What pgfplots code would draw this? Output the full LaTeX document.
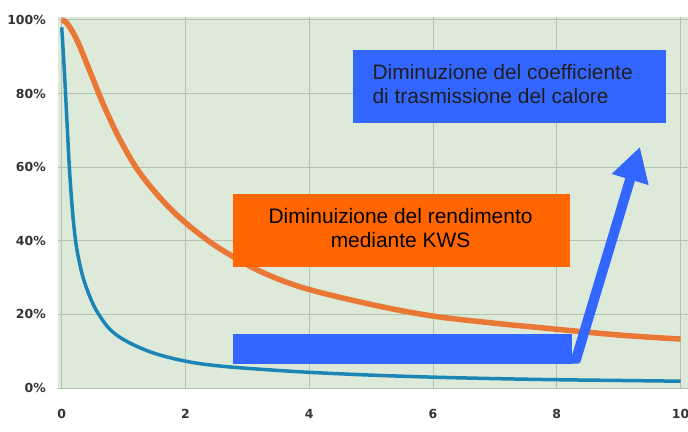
\documentclass[border=0pt]{standalone}
\usepackage{fontspec}
\setmainfont{Liberation Sans}
\newfontfamily\tickfont{DejaVu Sans}
\usepackage{pgfplots}
\pgfplotsset{compat=1.18}
\usetikzlibrary{arrows.meta}
\definecolor{bggreen}{HTML}{DDE9D9}
\definecolor{gridc}{HTML}{B4C2B0}
\definecolor{curveorange}{HTML}{E97837}
\definecolor{curveblue}{HTML}{1B86B6}
\definecolor{boxorange}{HTML}{FF6600}
\definecolor{boxblue}{HTML}{3366FF}
\definecolor{ticktext}{HTML}{333333}
\begin{document}
\begin{tikzpicture}
\path[use as bounding box] (-58bp,-44bp) rectangle (630bp,388bp);
\begin{axis}[
  at={(0,0)}, anchor=south west,
  width=630bp, height=371bp, scale only axis,
  xmin=-0.06, xmax=10.12, ymin=0, ymax=100.8,
  axis background/.style={fill=bggreen},
  axis line style={draw=none},
  major tick length=0pt,
  grid=major, grid style={gridc, line width=0.9bp},
  xtick={0,2,4,6,8,10}, xticklabels={0,2,4,6,8,10},
  ytick={0,20,40,60,80,100}, yticklabels={0\%,20\%,40\%,60\%,80\%,100\%},
  xticklabel style={font=\tickfont\bfseries\fontsize{12.5}{13}\selectfont, text=ticktext, anchor=north, inner sep=0pt, yshift=-21bp},
  yticklabel style={font=\tickfont\bfseries\fontsize{12.5}{13}\selectfont, text=ticktext, anchor=east, inner sep=0pt, xshift=-12bp},
]
\addplot[curveorange, line width=5.5bp, smooth, tension=0.6] coordinates {
 (0,100) (0.1,98.8) (0.26,94) (0.48,85) (0.70,76) (0.97,66.6) (1.29,57.8)
 (1.78,48.3) (2.32,40.6) (2.8,35.4) (3.3,31) (3.95,27) (5,22.7) (5.98,19.6)
 (7,17.6) (7.73,16.4) (9,14.4) (10,13.3)
};
\addplot[curveblue, line width=3.5bp, smooth, tension=0.6] coordinates {
 (0,98) (0.04,87) (0.08,74) (0.12,61) (0.16,51) (0.2,43.5) (0.25,37.2) (0.344,30.1)
 (0.48,23.8) (0.61,19.7) (0.8,15.6) (1.07,12.5) (1.45,9.7) (1.83,7.9)
 (2.2,6.7) (2.6,5.9) (3.12,5.2) (3.96,4.3) (5,3.5) (6,2.95) (7,2.55)
 (8,2.25) (9,2.05) (10,1.85)
};
% annotations
\fill[boxblue] (axis cs:2.77,6.6) rectangle (axis cs:8.24,14.7);
\draw[boxblue, line width=10bp, -{Triangle[width=36bp,length=34bp]}] (axis cs:8.30,7.2) -- (axis cs:9.343,65.5);
\fill[boxblue] (axis cs:8.17,6.6) -- (axis cs:8.36,6.6) -- (axis cs:8.30,8.5) -- cycle;
\fill[boxorange] (axis cs:2.76,32.9) rectangle (axis cs:8.21,52.7);
\fill[boxblue] (axis cs:4.70,72.1) rectangle (axis cs:9.76,91.8);
\node[anchor=base, align=center, font=\fontsize{21}{23.4}\selectfont, text=black, inner sep=0pt] at (axis cs:5.475,38.3) {Diminuizione del rendimento\\mediante KWS};
\node[anchor=base west, align=left, font=\fontsize{21}{24}\selectfont, text=black!88, inner sep=0pt] at (axis cs:5.02,77.3) {Diminuzione del coefficiente\\di trasmissione del calore};
\end{axis}
\end{tikzpicture}
\end{document}
